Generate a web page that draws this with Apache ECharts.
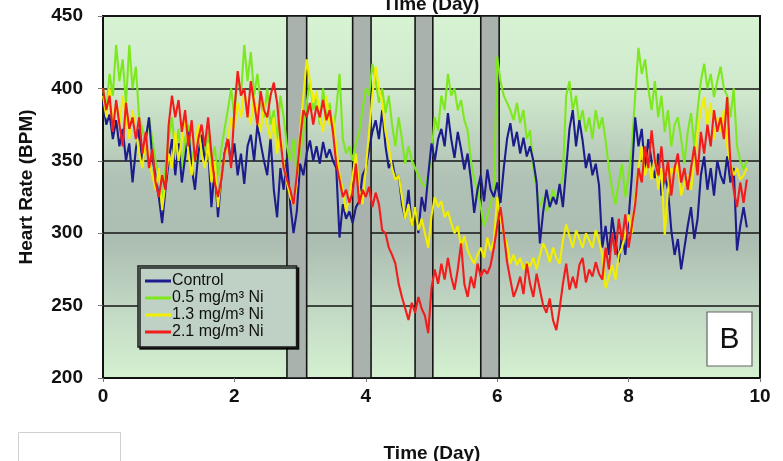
<!DOCTYPE html>
<html>
<head>
<meta charset="utf-8">
<script src="https://cdn.jsdelivr.net/npm/echarts@6/dist/echarts.min.js"></script>
<style>
html,body{margin:0;padding:0;background:#fff;}
#chart{width:783px;height:461px;}
</style>
</head>
<body>
<div id="chart"></div>
<script>
// Sampling step of the recordings (days)
const stepDays = 0.05;

const seriesNames = ['Control', '0.5 mg/m³ Ni', '1.3 mg/m³ Ni', '2.1 mg/m³ Ni'];
const xTicks = [0, 2, 4, 6, 8, 10];
const yTicks = [200, 250, 300, 350, 400, 450];

// Exposure periods (grey bands), in days
const bandStart = [2.8, 3.8, 4.75, 5.75];
const bandEnd   = [3.1, 4.08, 5.02, 6.03];

const control = [
390,375,382,365,378,360,372,350,362,335,
358,372,348,365,380,352,340,325,307,330,
350,365,340,362,335,352,370,345,330,355,
368,350,360,318,345,311,338,355,366,348,
362,340,355,334,360,368,350,375,362,350,
340,366,330,311,345,330,352,320,300,315,
348,340,355,364,350,360,348,363,352,358,
350,345,297,320,310,315,307,318,322,340,
345,358,370,378,365,385,360,345,350,338,
340,320,310,330,305,318,300,325,315,340,
362,350,365,372,360,383,365,352,370,358,
344,355,337,314,330,340,322,344,330,325,
335,321,345,365,376,360,370,355,366,353,
360,350,335,293,315,330,318,325,320,334,
318,345,372,385,360,378,364,345,355,340,
348,333,290,305,285,311,295,280,300,285,
310,340,380,360,372,344,365,350,338,355,
326,340,330,302,285,296,275,290,305,318,
296,310,340,353,330,345,326,350,340,334,
353,335,345,288,305,318,304
];

const ni05 = [
400,385,410,395,430,405,420,390,430,400,
415,380,372,360,380,365,350,340,322,345,
365,380,355,372,345,365,375,350,360,348,
365,355,370,345,360,340,358,372,385,400,
380,410,395,430,405,425,395,410,390,380,
400,375,385,365,395,380,360,350,365,340,
355,370,390,405,385,395,375,400,380,390,
370,385,410,365,355,360,350,362,370,385,
400,395,417,405,390,400,383,395,375,360,
380,365,348,360,350,345,340,335,332,340,
355,380,371,395,385,410,395,400,385,392,
378,371,350,337,330,318,305,312,320,330,
422,405,395,390,385,378,390,376,385,365,
371,345,330,318,325,315,320,330,322,330,
340,395,405,385,395,375,385,370,380,365,
385,372,380,364,345,330,320,335,348,325,
340,360,395,428,410,420,400,385,405,380,
395,370,385,360,375,380,365,348,370,383,
360,385,405,417,400,410,394,405,415,400,
395,380,400,360,350,344,350
];

const ni13 = [
395,380,400,372,390,375,395,380,365,385,
370,355,345,365,350,340,330,345,316,335,
355,345,370,350,365,380,355,340,360,375,
355,345,362,335,350,318,340,352,365,380,
372,390,380,398,385,375,395,380,370,390,
375,365,380,355,370,348,335,325,320,335,
370,395,420,405,390,398,380,370,395,375,
380,360,340,330,315,325,340,355,330,320,
345,370,395,415,400,390,370,360,345,337,
340,325,310,320,305,318,302,310,300,290,
312,325,318,322,311,315,307,300,305,290,
298,288,283,279,285,290,283,297,288,295,
325,310,300,292,279,285,278,283,275,280,
277,283,275,285,293,288,280,290,283,279,
295,306,298,290,302,296,290,300,295,290,
302,295,285,262,270,278,268,285,290,300,
313,300,325,345,360,340,350,337,355,330,
345,299,330,345,340,348,326,335,340,330,
350,370,385,394,375,390,365,380,370,385,
360,348,340,345,337,340,345
];

const ni21 = [
400,385,395,370,392,375,360,390,372,380,
365,380,355,370,345,358,335,325,340,330,
375,395,380,392,370,385,360,378,350,365,
375,360,380,355,335,325,337,355,365,345,
385,412,395,400,380,405,390,375,398,385,
380,395,404,390,365,345,337,330,320,340,
365,385,380,390,375,388,380,392,378,385,
370,348,337,325,330,321,328,348,320,330,
325,332,318,328,320,302,300,290,285,279,
265,256,248,240,252,245,256,248,243,231,
262,275,265,279,268,283,270,261,275,293,
265,256,270,262,279,270,275,272,278,290,
305,318,300,280,268,256,262,270,258,279,
265,256,272,261,250,245,255,240,233,248,
265,279,261,270,262,278,283,266,275,270,
280,272,268,290,275,300,285,310,295,313,
290,305,320,345,335,360,345,371,350,340,
360,335,350,326,345,355,335,345,330,345,
360,340,370,355,375,360,385,370,380,365,
394,348,330,318,335,321,337
];

const colors = ['#1c1c8c', '#7ee81e', '#f2ee00', '#f21c1c'];
const zOrder = [3, 2, 4, 5];
const allValues = [control, ni05, ni13, ni21];

function toPairs(vals) {
  return vals.map((v, i) => [Number((i * stepDays).toFixed(2)), v]);
}

const chart = echarts.init(document.getElementById('chart'));

const lineSeries = allValues.map((vals, k) => ({
  name: seriesNames[k],
  type: 'line',
  data: toPairs(vals),
  showSymbol: false,
  symbol: 'none',
  z: zOrder[k],
  lineStyle: { color: colors[k], width: 2.1 },
  itemStyle: { color: colors[k] },
  animation: false
}));

const bandSeries = {
  name: 'bands',
  type: 'line',
  data: [],
  z: 1,
  silent: true,
  markArea: {
    silent: true,
    itemStyle: { color: '#a9b2ad', borderColor: '#151515', borderWidth: 1.6 },
    data: bandStart.map((s, i) => [{ xAxis: s }, { xAxis: bandEnd[i] }])
  }
};

const option = {
  backgroundColor: '#ffffff',
  animation: false,
  grid: {
    left: 103, right: 23, top: 16, bottom: 83,
    show: true,
    borderColor: '#111',
    borderWidth: 2,
    backgroundColor: {
      type: 'linear', x: 0, y: 0, x2: 0, y2: 1,
      colorStops: [
        { offset: 0, color: '#d7f3d3' },
        { offset: 0.22, color: '#cfe8cc' },
        { offset: 0.45, color: '#b0c1b5' },
        { offset: 0.62, color: '#acbdb1' },
        { offset: 0.82, color: '#c3dac5' },
        { offset: 1, color: '#d4f1d0' }
      ]
    }
  },
  legend: {
    data: seriesNames,
    orient: 'vertical',
    left: 138, top: 266,
    padding: [7, 33, 7, 7],
    itemGap: 1,
    itemWidth: 26,
    itemHeight: 3,
    icon: 'rect',
    backgroundColor: '#bfd1c5',
    borderColor: '#1a1a1a',
    borderWidth: 1.5,
    shadowColor: 'rgba(0,0,0,0.85)',
    shadowOffsetX: 2,
    shadowOffsetY: 2,
    shadowBlur: 0,
    textStyle: { fontFamily: 'Liberation Sans, Arial, sans-serif', fontSize: 16, color: '#111', padding: [0, 0, 0, -4], lineHeight: 16 },
    selectedMode: false
  },
  xAxis: {
    type: 'value', min: 0, max: 10, interval: 2,
    axisLine: { show: true, lineStyle: { color: '#111', width: 2 } },
    axisTick: { show: true, length: 4, lineStyle: { color: '#777' } },
    splitLine: { show: false },
    axisLabel: { fontFamily: 'Liberation Sans, Arial, sans-serif', fontWeight: 'bold', fontSize: 19, color: '#111', margin: 9,
      formatter: v => xTicks.includes(v) ? String(v) : '' }
  },
  yAxis: {
    type: 'value', min: 200, max: 450, interval: 50,
    axisLine: { show: true, lineStyle: { color: '#111', width: 2 } },
    axisTick: { show: true, length: 5, lineStyle: { color: '#777' } },
    splitLine: { show: true, lineStyle: { color: '#161616', width: 1.5 } },
    axisLabel: { fontFamily: 'Liberation Sans, Arial, sans-serif', fontWeight: 'bold', fontSize: 19, color: '#111', margin: 20,
      formatter: v => yTicks.includes(v) ? String(v) : '' }
  },
  graphic: [
    { type: 'text', x: 431, y: 14, z: 10,
      style: { text: 'Time (Day)', fontFamily: 'Liberation Sans, Arial, sans-serif', fontWeight: 'bold', fontSize: 19, fill: '#111', textAlign: 'center', textVerticalAlign: 'bottom' } },
    { type: 'text', x: 432, y: 463, z: 10,
      style: { text: 'Time (Day)', fontFamily: 'Liberation Sans, Arial, sans-serif', fontWeight: 'bold', fontSize: 19, fill: '#111', textAlign: 'center', textVerticalAlign: 'bottom' } },
    { type: 'text', x: 27, y: 187, rotation: Math.PI / 2, z: 10,
      style: { text: 'Heart Rate (BPM)', fontFamily: 'Liberation Sans, Arial, sans-serif', fontWeight: 'bold', fontSize: 19, fill: '#111', textAlign: 'center', textVerticalAlign: 'middle' } },
    { type: 'rect', shape: { x: 707, y: 312, width: 45, height: 54 }, z: 10,
      style: { fill: '#ffffff', stroke: '#666', lineWidth: 1.2 } },
    { type: 'text', x: 729.5, y: 340, z: 11,
      style: { text: 'B', fontFamily: 'Liberation Sans, Arial, sans-serif', fontSize: 30, fill: '#111', textAlign: 'center', textVerticalAlign: 'middle' } },
    { type: 'rect', shape: { x: 18.5, y: 432.5, width: 102, height: 40 }, z: 10,
      style: { fill: '#ffffff', stroke: '#d0d0d0', lineWidth: 1 } }
  ],
  series: [bandSeries].concat(lineSeries)
};

chart.setOption(option);
</script>
</body>
</html>
